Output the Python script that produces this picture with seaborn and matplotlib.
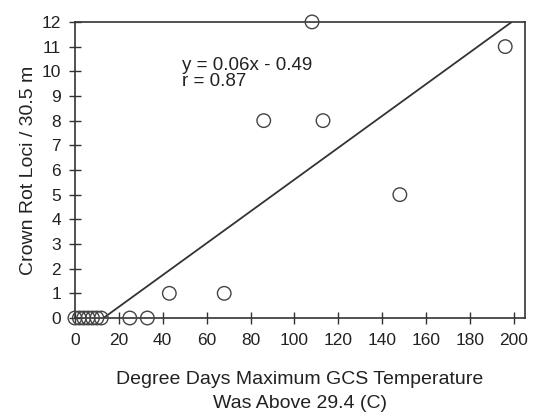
import matplotlib
matplotlib.use("Agg")
import matplotlib.pyplot as plt
import seaborn as sns
import pandas as pd

# data
degree_days = [0, 2, 4, 6, 8, 10, 12, 25, 33, 43, 68, 86, 108, 113, 148, 196]
crown_rot = [0, 0, 0, 0, 0, 0, 0, 0, 0, 1, 1, 8, 12, 8, 5, 11]
fit_x = [13, 199]
fit_y = [0, 12]
x_ticks = [0, 20, 40, 60, 80, 100, 120, 140, 160, 180, 200]
y_ticks = list(range(0, 13))

sns.set_theme(style="white")
plt.rcParams['font.family'] = ['Liberation Sans', 'DejaVu Sans']

df = pd.DataFrame({"x": degree_days, "y": crown_rot})

fig = plt.figure(figsize=(5.39, 4.17), dpi=100)
ax = fig.add_axes([0.139, 0.2374, 0.835, 0.710])

sns.lineplot(x=fit_x, y=fit_y, ax=ax, color="#333333", linewidth=1.3)
sns.scatterplot(data=df, x="x", y="y", ax=ax, s=95, facecolor="none",
                edgecolor="#444444", linewidth=1.0, clip_on=False, zorder=5)

ax.set_xlim(0, 205)
ax.set_ylim(0, 12)
ax.set_xticks(x_ticks)
ax.set_yticks(y_ticks)
ax.tick_params(axis="both", bottom=True, left=True, direction="inout", length=8,
               width=1, colors="#333333", labelsize=12.5, labelcolor="#222222")
ax.tick_params(axis="x", pad=7)
ax.tick_params(axis="y", pad=6)
for s in ax.spines.values():
    s.set_color("#333333")
    s.set_linewidth(1.2)

ax.set_xlabel("Degree Days Maximum GCS Temperature\nWas Above 29.4 (C)",
              fontsize=14, color="#222222", labelpad=16, linespacing=1.55)
ax.set_ylabel("Crown Rot Loci / 30.5 m", fontsize=14, color="#222222", labelpad=3)
ax.text(49, 9.4, "y = 0.06x - 0.49\nr = 0.87", fontsize=13.5, color="#222222",
        linespacing=0.9)

fig.savefig("out.png", dpi=100)
